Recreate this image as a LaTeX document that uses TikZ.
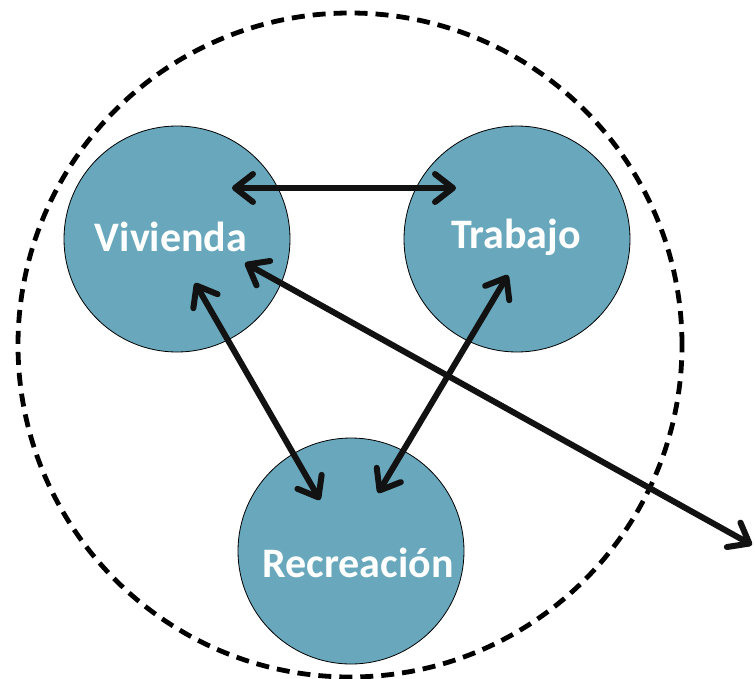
\documentclass[tikz,border=0pt]{standalone}
\usepackage{fontspec}
\setmainfont{Carlito}
\usetikzlibrary{arrows.meta}
\definecolor{blob}{HTML}{69A8BC}
\begin{document}
\begin{tikzpicture}[x=1pt,y=-1pt,
  place/.style={circle,draw=black,line width=0.8pt,fill=blob,minimum size=226pt,inner sep=0pt},
  lbl/.style={text=white,font=\bfseries\fontsize{42}{48}\selectfont,inner sep=0pt},
  link/.style={line width=6pt,draw=black!93,line cap=round,{Straight Barb[length=18pt,width=28pt,line cap=round,round]}-{Straight Barb[length=18pt,width=28pt,line cap=round,round]}}]
\useasboundingbox (0,0) rectangle (755,678);
\node[circle,draw=black,line width=4.8pt,dash pattern=on 13pt off 8pt,minimum size=664pt,inner sep=0pt] (outer) at (350,345) {};
\node[place] (viv) at (177,239) {};
\node[place] (tra) at (517,239) {};
\node[place] (rec) at (351,551) {};
\node[lbl] (tviv) at (171,237) {Vivienda};
\node[lbl] (ttra) at (516,237) {Trabajo};
\node[lbl] (trec) at (358,563) {Recreación};
\coordinate (a1) at (232,188);
\coordinate (a2) at (456,188);
\coordinate (b1) at (195,283);
\coordinate (b2) at (320,500);
\coordinate (c1) at (508,275);
\coordinate (c2) at (378,493);
\coordinate (d1) at (245,263);
\coordinate (d2) at (752,545);
\draw[link] (a1) -- (a2);
\draw[link] (b1) -- (b2);
\draw[link] (c1) -- (c2);
\draw[link] (d1) -- (d2);
\end{tikzpicture}
\end{document}
